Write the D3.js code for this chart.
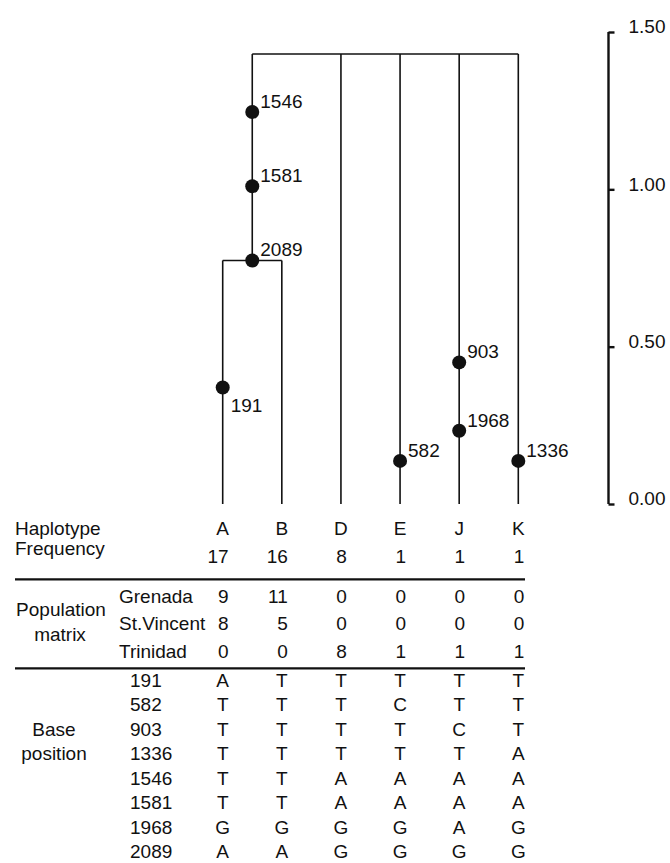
<!DOCTYPE html>
<html>
<head>
<meta charset="utf-8">
<script src="https://cdn.jsdelivr.net/npm/d3@7"></script>
<style>
  body { margin: 0; background: #fff; }
  svg text { font-family: "Liberation Sans", Arial, Helvetica, sans-serif; font-size: 19px; fill: #111; }
</style>
</head>
<body>
<svg id="chart" width="670" height="863"></svg>
<script>
// haplotypes and their counts
var haplotypes = ["A", "B", "D", "E", "J", "K"];
var frequency = [17, 16, 8, 1, 1, 1];

var populations = ["Grenada", "St.Vincent", "Trinidad"];
var popCounts = [
  [9, 11, 0, 0, 0, 0],
  [8, 5, 0, 0, 0, 0],
  [0, 0, 8, 1, 1, 1]
];

var positions = ["191", "582", "903", "1336", "1546", "1581", "1968", "2089"];
var bases = [
  ["A", "T", "T", "T", "T", "T"],
  ["T", "T", "T", "C", "T", "T"],
  ["T", "T", "T", "T", "C", "T"],
  ["T", "T", "T", "T", "T", "A"],
  ["T", "T", "A", "A", "A", "A"],
  ["T", "T", "A", "A", "A", "A"],
  ["G", "G", "G", "G", "A", "G"],
  ["A", "A", "G", "G", "G", "G"]
];

// tree heights (same units as the scale bar)
var scaleTicks = [0, 0.5, 1.0, 1.5];
var rootHeight = 1.43;
var abHeight = 0.774;
// mutations: site, branch ("AB" = shared stem of A and B), height
var mutSites = ["1546", "1581", "2089", "191", "582", "903", "1968", "1336"];
var mutBranch = ["AB", "AB", "AB", "A", "E", "J", "J", "K"];
var mutHeight = [1.246, 1.01, 0.774, 0.37, 0.137, 0.45, 0.233, 0.137];

var svg = d3.select("#chart");

var x = d3.scalePoint().domain(haplotypes).range([222.7, 518.3]);
var y = d3.scaleLinear().domain([0, 1.5]).range([504, 32]);

function branchX(b) {
  if (b == "AB") return (x("A") + x("B")) / 2;
  return x(b);
}

// tree
var tree = svg.append("g").attr("stroke", "#111").attr("stroke-width", 1.6).attr("fill", "none");
var abX = branchX("AB");
tree.append("line").attr("x1", abX).attr("x2", x("K")).attr("y1", y(rootHeight)).attr("y2", y(rootHeight));
tree.append("line").attr("x1", abX).attr("x2", abX).attr("y1", y(rootHeight)).attr("y2", y(abHeight));
tree.append("line").attr("x1", x("A")).attr("x2", x("B")).attr("y1", y(abHeight)).attr("y2", y(abHeight));
tree.selectAll(".leaf")
  .data(haplotypes)
  .enter()
  .append("line")
  .attr("class", "leaf")
  .attr("x1", function(d){ return x(d); })
  .attr("x2", function(d){ return x(d); })
  .attr("y1", function(d){ return (d == "A" || d == "B") ? y(abHeight) : y(rootHeight); })
  .attr("y2", y(0));

svg.selectAll(".mut")
  .data(mutSites)
  .enter()
  .append("circle")
  .attr("class", "mut")
  .attr("cx", function(d, i){ return branchX(mutBranch[i]); })
  .attr("cy", function(d, i){ return y(mutHeight[i]); })
  .attr("r", 7)
  .attr("fill", "#111");

svg.selectAll(".mutlab")
  .data(mutSites)
  .enter()
  .append("text")
  .attr("class", "mutlab")
  .attr("x", function(d, i){ return branchX(mutBranch[i]) + 8; })
  .attr("y", function(d, i){ return y(mutHeight[i]) + (d == "191" ? 24 : -4); })
  .text(function(d){ return d; });

// scale bar
var axis = d3.axisRight(y).tickValues(scaleTicks).tickSize(6).tickFormat(d3.format(".2f"));
var ax = svg.append("g").attr("transform", "translate(608.5,0)").call(axis);
ax.select(".domain").attr("stroke", "#111").attr("stroke-width", 2.4).attr("d", "M0," + y(0) + "V" + y(1.5));
ax.selectAll(".tick line").attr("stroke", "#111").attr("stroke-width", 2.4);
ax.selectAll(".tick text").attr("x", 20).attr("dy", "0.05em").style("font-size", "19px").attr("fill", "#111");

// table
var numX = function(h){ return x(h) + 6; };

svg.append("text").attr("x", 15).attr("y", 534.5).text("Haplotype");
svg.append("text").attr("x", 15).attr("y", 555).text("Frequency");
svg.selectAll(".hap")
  .data(haplotypes)
  .enter()
  .append("text")
  .attr("class", "hap")
  .attr("x", function(d){ return x(d); })
  .attr("y", 534.5)
  .attr("text-anchor", "middle")
  .text(function(d){ return d; });
svg.selectAll(".freq")
  .data(frequency)
  .enter()
  .append("text")
  .attr("class", "freq")
  .attr("x", function(d, i){ return numX(haplotypes[i]); })
  .attr("y", 562.5)
  .attr("text-anchor", "end")
  .text(function(d){ return d; });

svg.append("line").attr("x1", 15).attr("x2", 525).attr("y1", 579.3).attr("y2", 579.3)
  .attr("stroke", "#111").attr("stroke-width", 2.2);

var popY = [602.5, 630, 657.5];
svg.append("text").attr("x", 61).attr("y", 616).attr("text-anchor", "middle").text("Population");
svg.append("text").attr("x", 60).attr("y", 641).attr("text-anchor", "middle").text("matrix");
populations.forEach(function(p, r){
  svg.append("text").attr("x", 119).attr("y", popY[r]).text(p);
  svg.selectAll(".pop" + r)
    .data(popCounts[r])
    .enter()
    .append("text")
    .attr("x", function(d, i){ return numX(haplotypes[i]); })
    .attr("y", popY[r])
    .attr("text-anchor", "end")
    .text(function(d){ return d; });
});

svg.append("line").attr("x1", 15).attr("x2", 525).attr("y1", 668.3).attr("y2", 668.3)
  .attr("stroke", "#111").attr("stroke-width", 2.2);

var rowY = d3.scaleLinear().domain([0, 7]).range([687, 858]);
svg.append("text").attr("x", 54).attr("y", rowY(2)).attr("text-anchor", "middle").text("Base");
svg.append("text").attr("x", 54).attr("y", rowY(3)).attr("text-anchor", "middle").text("position");
positions.forEach(function(p, r){
  svg.append("text").attr("x", 130).attr("y", rowY(r)).text(p);
  svg.selectAll(".base" + r)
    .data(bases[r])
    .enter()
    .append("text")
    .attr("x", function(d, i){ return x(haplotypes[i]); })
    .attr("y", rowY(r))
    .attr("text-anchor", "middle")
    .text(function(d){ return d; });
});
</script>
</body>
</html>
